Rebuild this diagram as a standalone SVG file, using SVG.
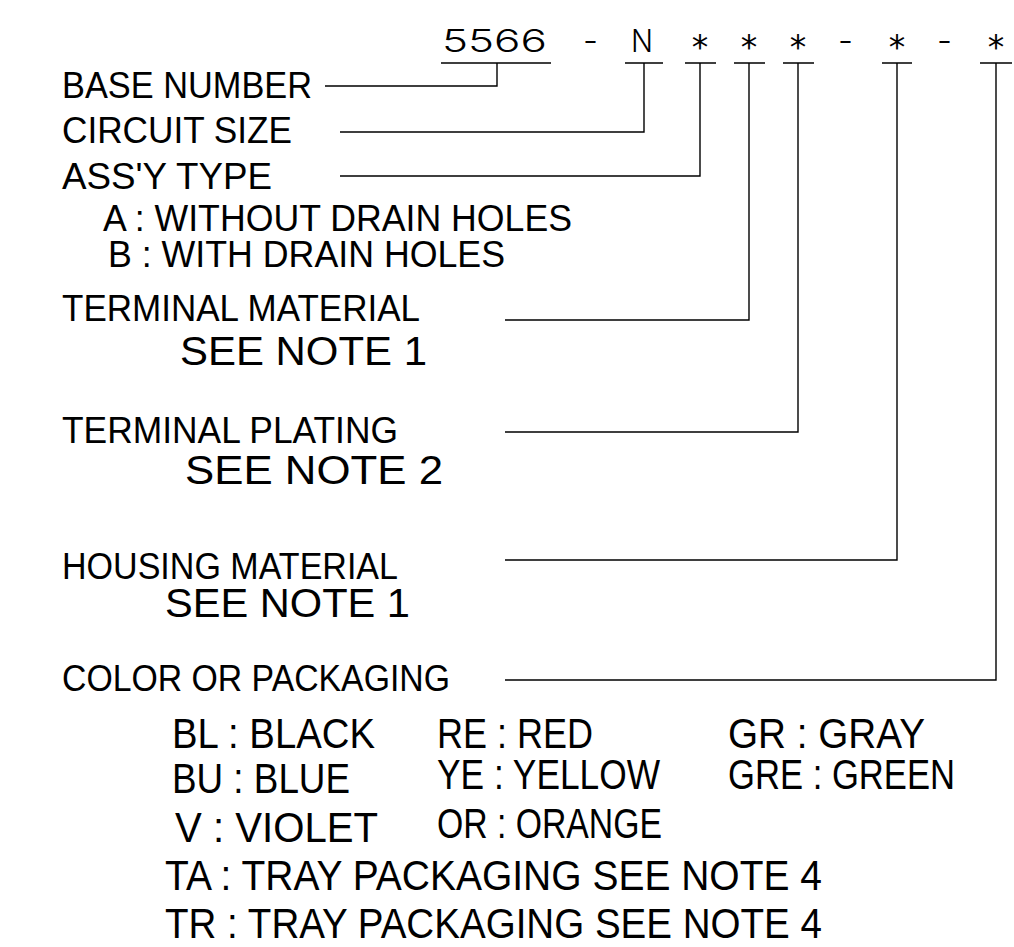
<svg xmlns="http://www.w3.org/2000/svg" width="1014" height="947" viewBox="0 0 1014 947">
<style>
.hd{font-family:Inter,"DejaVu Sans",sans-serif;font-weight:300;font-size:31px;fill:#000}
.ast{font-family:"DejaVu Sans",sans-serif;font-size:33px;fill:#000}
.lb{font-family:"Liberation Sans",Arial,sans-serif;font-size:37px;fill:#000}
.nt{font-family:"Liberation Sans",Arial,sans-serif;font-size:40px;fill:#000}
.cl{font-family:"Liberation Sans",Arial,sans-serif;font-size:42px;fill:#000}
.ln{fill:none;stroke:#000;stroke-width:1.4}
</style>
<rect width="1014" height="947" fill="#fff"/>
<g id="part-number">
<text class="hd" x="442" y="52" textLength="105" lengthAdjust="spacingAndGlyphs">5566</text>
<text class="hd" x="583" y="52" textLength="15" lengthAdjust="spacingAndGlyphs">-</text>
<text class="hd" x="631" y="52" textLength="22" lengthAdjust="spacingAndGlyphs">N</text>
<text class="ast" x="700" y="59" text-anchor="middle">*</text>
<text class="ast" x="749" y="59" text-anchor="middle">*</text>
<text class="ast" x="798" y="59" text-anchor="middle">*</text>
<text class="hd" x="838" y="52" textLength="15" lengthAdjust="spacingAndGlyphs">-</text>
<text class="ast" x="897" y="59" text-anchor="middle">*</text>
<text class="hd" x="937" y="52" textLength="15" lengthAdjust="spacingAndGlyphs">-</text>
<text class="ast" x="996" y="59" text-anchor="middle">*</text>
</g>
<g id="connectors">
<path class="ln" d="M441,63H551M497,63V86H325"/>
<path class="ln" d="M625,63H663M644,63V132H340"/>
<path class="ln" d="M685,63H716M700,63V176H340"/>
<path class="ln" d="M734,63H765M749,63V320H505"/>
<path class="ln" d="M783,63H814M798,63V432H505"/>
<path class="ln" d="M882,63H912M897,63V560H505"/>
<path class="ln" d="M980,63H1012M996,63V680H505"/>
</g>
<g id="base-number"><text class="lb" x="62" y="98" textLength="250" lengthAdjust="spacingAndGlyphs">BASE NUMBER</text></g>
<g id="circuit-size"><text class="lb" x="62" y="143" textLength="230" lengthAdjust="spacingAndGlyphs">CIRCUIT SIZE</text></g>
<g id="assy-type">
<text class="lb" x="62" y="189" textLength="210" lengthAdjust="spacingAndGlyphs">ASS'Y TYPE</text>
<text class="lb" x="103" y="231" textLength="469" lengthAdjust="spacingAndGlyphs">A : WITHOUT DRAIN HOLES</text>
<text class="lb" x="108" y="267" textLength="397" lengthAdjust="spacingAndGlyphs">B : WITH DRAIN HOLES</text>
</g>
<g id="terminal-material">
<text class="lb" x="62" y="321" textLength="358" lengthAdjust="spacingAndGlyphs">TERMINAL MATERIAL</text>
<text class="nt" x="180" y="365" textLength="247" lengthAdjust="spacingAndGlyphs">SEE NOTE 1</text>
</g>
<g id="terminal-plating">
<text class="lb" x="62" y="443" textLength="336" lengthAdjust="spacingAndGlyphs">TERMINAL PLATING</text>
<text class="nt" x="185" y="484" textLength="258" lengthAdjust="spacingAndGlyphs">SEE NOTE 2</text>
</g>
<g id="housing-material">
<text class="lb" x="62" y="579" textLength="336" lengthAdjust="spacingAndGlyphs">HOUSING MATERIAL</text>
<text class="nt" x="165" y="617" textLength="245" lengthAdjust="spacingAndGlyphs">SEE NOTE 1</text>
</g>
<g id="color-packaging">
<text class="lb" x="62" y="691" textLength="388" lengthAdjust="spacingAndGlyphs">COLOR OR PACKAGING</text>
<text class="cl" x="172" y="748" textLength="203" lengthAdjust="spacingAndGlyphs">BL : BLACK</text>
<text class="cl" x="437" y="748" textLength="156" lengthAdjust="spacingAndGlyphs">RE : RED</text>
<text class="cl" x="728" y="748" textLength="197" lengthAdjust="spacingAndGlyphs">GR  : GRAY</text>
<text class="cl" x="172" y="793" textLength="178" lengthAdjust="spacingAndGlyphs">BU : BLUE</text>
<text class="cl" x="437" y="789" textLength="223" lengthAdjust="spacingAndGlyphs">YE : YELLOW</text>
<text class="cl" x="728" y="789" textLength="227" lengthAdjust="spacingAndGlyphs">GRE : GREEN</text>
<text class="cl" x="175" y="842" textLength="203" lengthAdjust="spacingAndGlyphs">V : VIOLET</text>
<text class="cl" x="437" y="838" textLength="225" lengthAdjust="spacingAndGlyphs">OR : ORANGE</text>
<text class="cl" x="165" y="890" textLength="657" lengthAdjust="spacingAndGlyphs">TA : TRAY PACKAGING SEE NOTE 4</text>
<text class="cl" x="165" y="938" textLength="657" lengthAdjust="spacingAndGlyphs">TR : TRAY PACKAGING SEE NOTE 4</text>
</g>
</svg>
